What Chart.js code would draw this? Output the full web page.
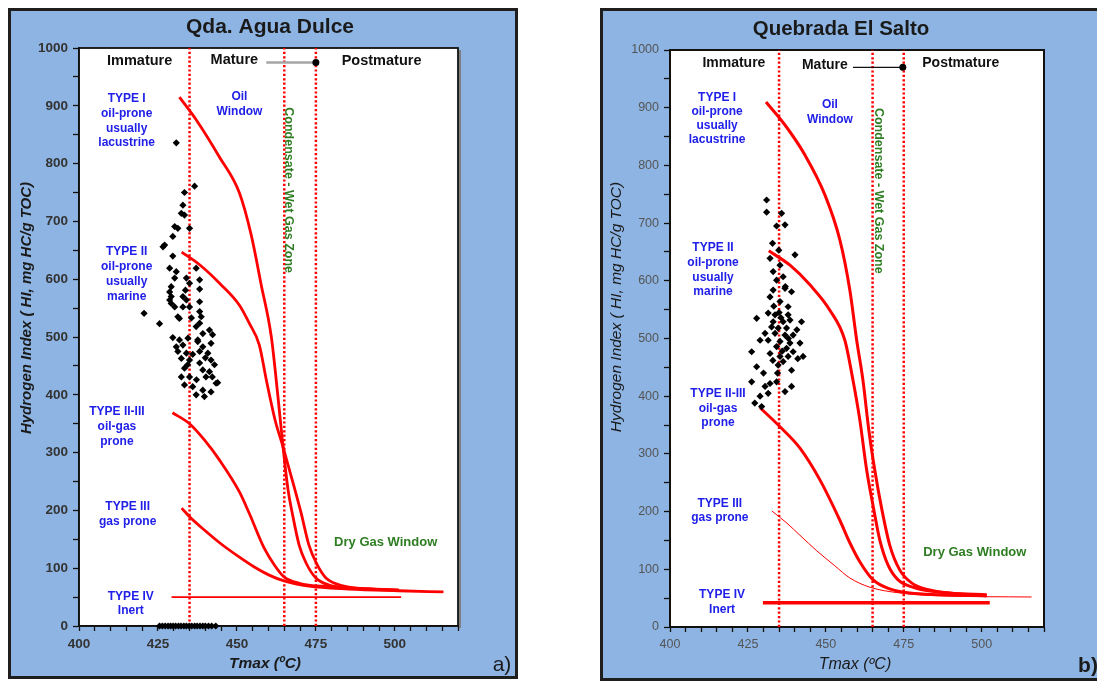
<!DOCTYPE html>
<html><head><meta charset="utf-8">
<script src="https://cdn.jsdelivr.net/npm/chart.js@4.4.1/dist/chart.umd.min.js"></script>
<style>
html,body{margin:0;padding:0;background:#fff;width:1097px;height:682px;overflow:hidden;}
body{position:relative;}
.panel{position:absolute;box-sizing:border-box;background:#8DB4E2;border:3px solid #1e1e1e;}
#pa{left:8px;top:8px;width:510px;height:671px;}
#pb{left:600px;top:8px;width:520px;height:673px;}
canvas{position:absolute;}
#ca{left:11px;top:11px;width:504px;height:665px;}
#cb{left:603px;top:11px;width:494px;height:667px;}
</style></head><body>
<div class="panel" id="pa"></div><div class="panel" id="pb"></div>
<canvas id="ca" width="504" height="665"></canvas>
<canvas id="cb" width="494" height="667"></canvas>
<script>
// ---------- shared axis data ----------
const xTickLabels = [400, 425, 450, 475, 500];
const yTickLabels = [0, 100, 200, 300, 400, 500, 600, 700, 800, 900, 1000];
const boundaryTmax = [435, 465, 475];

// ---------- panel a : Qda. Agua Dulce ----------
const aTypeI_Tmax = [431.8, 437.2, 444.5, 450.8, 454.5, 457.7, 460.9, 463.1, 464.6, 466.2, 467.5, 469.7, 471.9, 475.0, 479.1, 485.4, 501.2];
const aTypeI_HI   = [915, 875, 811, 749, 677, 590, 500, 391, 310, 235, 196, 140, 109, 83, 71, 66, 62];
const aTypeII_Tmax = [432.5, 438.2, 444.5, 450.8, 453.9, 457.1, 459.3, 462.1, 464.6, 467.5, 470.3, 472.8, 475.4, 478.2, 483.9, 491.7, 501.2];
const aTypeII_HI   = [647, 625, 593, 555, 524, 486, 426, 356, 310, 253, 196, 140, 106, 83, 69, 64, 62];
const aTypeIIIII_Tmax = [429.6, 435.0, 439.7, 444.5, 450.8, 453.9, 458.6, 461.8, 464.9, 469.7, 479.1, 501.2];
const aTypeIIIII_HI   = [369, 350, 322, 287, 232, 195, 135, 106, 85, 74, 68, 62];
const aTypeIII_Tmax = [432.5, 435.0, 439.7, 444.5, 450.8, 455.5, 460.2, 464.9, 472.8, 485.4, 501.2, 515.4];
const aTypeIII_HI   = [204, 189, 166, 144, 119, 102, 88, 78, 69, 64, 61, 59];
const aTypeIV_Tmax = [429.3, 502.0];
const aTypeIV_HI   = [50, 50];
const aMature_Tmax = [459.3, 475.0];
const aMature_HI   = [975, 975];
const aSample_Tmax = [430.8, 436.6, 433.4, 432.9, 432.4, 433.4, 430.3, 431.3, 435.0, 429.7, 427.1, 426.6, 429.7, 428.7, 430.8, 437.1, 438.2, 430.3, 434.0, 435.0,
  429.2, 428.7, 438.2, 432.9, 429.2, 428.7, 434.0, 438.2, 429.2, 432.9, 435.0, 438.2, 438.7, 438.2, 431.3, 425.5, 420.6, 437.1, 441.3, 442.3,
  439.2, 429.7, 437.6, 441.8, 430.8, 432.9, 439.2, 431.3, 434.0, 438.2, 440.8, 432.4, 435.0, 441.8, 438.2, 433.4, 439.2, 441.3, 432.4, 435.0,
  440.2, 443.9, 436.0, 439.2, 441.8, 437.1, 439.7, 437.6, 440.0, 434.4, 442.9, 437.2, 433.4, 442.2, 431.8, 435.6, 430.3, 433.7, 431.8, 443.4,
  436.0, 434.5,
  425.5, 426.4, 427.3, 428.2, 429.0, 429.8, 430.6, 431.5, 432.3, 433.2, 434.0, 434.9, 435.7, 436.6, 437.4, 438.3, 439.2, 440.0, 441.0, 442.0, 443.3];
const aSample_HI = [836, 761, 750, 728, 714, 711, 691, 688, 688, 674, 659, 656, 640, 619, 613, 619, 599, 602, 602, 593,
  587, 578, 583, 570, 570, 564, 564, 561, 558, 552, 552, 544, 535, 524, 535, 523, 541, 518, 512, 504,
  506, 499, 492, 489, 483, 486, 483, 475, 472, 475, 472, 463, 460, 460, 455, 446, 443, 440, 431, 431,
  431, 421, 414, 408, 405, 400, 397, 495, 464, 452, 452, 426, 417, 431, 495, 533, 552, 581, 532, 420,
  470, 498,
  0, 0, 0, 0, 0, 0, 0, 0, 0, 0, 0, 0, 0, 0, 0, 0, 0, 0, 0, 0, 0];

// ---------- panel b : Quebrada El Salto ----------
const bTypeI_Tmax = [430.8, 436.9, 443.3, 449.7, 454.5, 457.7, 459.9, 461.9, 463.8, 465.7, 468.0, 470.5, 473.7, 477.6, 483.3, 493.0, 501.6];
const bTypeI_HI   = [910, 870, 818, 749, 671, 584, 497, 428, 341, 272, 203, 142, 99, 76, 64, 57, 54];
const bTypeII_Tmax = [431.7, 438.5, 444.9, 451.3, 456.1, 458.7, 460.9, 463.1, 465.4, 467.3, 469.9, 473.1, 478.5, 489.7, 501.6];
const bTypeII_HI   = [652, 627, 593, 549, 497, 428, 359, 272, 203, 151, 108, 82, 68, 59, 56];
const bTypeIIIII_Tmax = [428.9, 435.3, 441.7, 448.1, 454.5, 457.7, 460.9, 465.1, 470.5, 476.9, 501.6];
const bTypeIIIII_HI   = [380, 347, 310, 255, 185, 146, 113, 82, 66, 59, 54];
const bTypeIII_Tmax = [432.7, 437.5, 441.7, 447.1, 452.9, 457.7, 464.1, 473.7, 486.5, 516.0];
const bTypeIII_HI   = [201, 180, 159, 132, 106, 85, 69, 59, 54, 52];
const bTypeIV_Tmax = [429.8, 502.6];
const bTypeIV_HI   = [42, 42];
const bMature_Tmax = [458.7, 474.7];
const bMature_HI   = [970, 970];
const bSample_Tmax = [431.0, 431.0, 435.8, 434.2, 436.9, 432.9, 432.1, 440.1, 435.3, 433.1, 436.3, 434.2, 433.1, 436.9, 439.0, 432.1, 435.3, 437.9, 427.8, 431.5,
  433.7, 437.9, 433.1, 436.3, 438.5, 442.2, 432.6, 434.7, 437.4, 430.5, 433.7, 436.9, 439.5, 431.5, 435.3, 438.5, 441.7, 434.2, 437.4, 426.2,
  432.1, 439.5, 442.7, 435.3, 437.9, 436.3, 434.7, 427.8, 439.0, 426.2, 434.2, 432.1, 430.5, 439.0, 436.9, 428.9, 431.5, 427.2, 429.4,
  435.6, 433.3, 440.7, 428.9, 434.9, 436.0, 433.0, 438.0, 435.0, 437.0, 441.0, 430.0, 434.5];
const bSample_HI = [740, 719, 717, 695, 697, 665, 639, 645, 627, 616, 607, 601, 584, 587, 581, 572, 564, 555, 535, 544,
  541, 541, 529, 529, 532, 529, 520, 518, 518, 509, 509, 506, 506, 497, 495, 492, 492, 486, 483, 477,
  474, 477, 469, 469, 469, 460, 454, 451, 445, 425, 425, 422, 417, 417, 408, 400, 405, 388, 382,
  536, 556, 515, 497, 653, 478, 462, 500, 545, 590, 465, 440, 440];

// ---------- helpers ----------
const FONT = '"Liberation Sans", Arial, sans-serif';
const RED = '#FF0000';
const zip = (xs, ys) => xs.map((x, i) => ({x: x, y: ys[i]}));

function curve(xs, ys, width) {
  return {data: zip(xs, ys), showLine: true, borderColor: RED, borderWidth: width, pointRadius: 0,
    tension: 0.4, cubicInterpolationMode: 'monotone', fill: false, order: 1};
}
function boundary(t) {
  return {data: [{x: t, y: 0}, {x: t, y: 1000}], showLine: true, borderColor: RED, borderWidth: 2.5,
    borderDash: [2.2, 2.2], pointRadius: 0, tension: 0, order: 2};
}
function mature(xs, ys, color, width) {
  return {data: zip(xs, ys), showLine: true, borderColor: color, borderWidth: width, tension: 0,
    pointRadius: [0, 3.5], pointBackgroundColor: '#000', pointBorderWidth: 0, order: 1};
}
function samples(xs, ys) {
  return {data: zip(xs, ys), pointStyle: 'rectRot', pointRadius: 3.6, backgroundColor: '#000',
    borderColor: '#000', borderWidth: 0, clip: false, order: 0};
}

const panelDecor = {
  id: 'panelDecor',
  beforeDraw(chart) {
    const {ctx, chartArea: a} = chart;
    ctx.save(); ctx.fillStyle = '#fff';
    ctx.fillRect(a.left, a.top, a.right - a.left, a.bottom - a.top); ctx.restore();
  },
  beforeDatasetsDraw(chart, args, o) {
    const {ctx, chartArea: a} = chart;
    ctx.save();
    if (o.shadow) {
      ctx.strokeStyle = '#7f7f7f'; ctx.lineWidth = 2;
      ctx.beginPath(); ctx.moveTo(a.right + 2, a.top + 2); ctx.lineTo(a.right + 2, a.bottom + 2); ctx.stroke();
    }
    ctx.strokeStyle = '#111'; ctx.lineWidth = o.frameWidth;
    ctx.strokeRect(a.left, a.top, a.right - a.left, a.bottom - a.top);
    ctx.restore();
  },
  afterDraw(chart, args, o) {
    const {ctx, scales: {x, y}} = chart;
    ctx.save();
    ctx.textAlign = 'center'; ctx.textBaseline = 'middle';
    for (const lab of o.labels) {
      const px = x.getPixelForValue(lab.at[0]), py = y.getPixelForValue(lab.at[1]);
      ctx.font = lab.font; ctx.fillStyle = lab.color;
      if (lab.rot) {
        ctx.save(); ctx.translate(px, py); ctx.rotate(lab.rot); ctx.fillText(lab.lines[0], 0, 0); ctx.restore();
      } else {
        lab.lines.forEach((t, i) => ctx.fillText(t, px, py + i * (lab.lh || 0)));
      }
    }
    for (const t of o.texts) {
      ctx.font = t.font; ctx.fillStyle = t.color;
      if (t.rot) {
        ctx.save(); ctx.translate(t.x, t.y); ctx.rotate(t.rot); ctx.fillText(t.text, 0, 0); ctx.restore();
      } else ctx.fillText(t.text, t.x, t.y);
    }
    ctx.restore();
  }
};

function makePanel(id, datasets, cfg) {
  const tickFont = {family: FONT, size: cfg.tickSize, weight: cfg.tickWeight};
  return new Chart(document.getElementById(id), {
    type: 'scatter',
    data: {datasets: datasets},
    options: {
      responsive: false, animation: false, events: [],
      layout: {padding: cfg.pad},
      plugins: {legend: {display: false}, tooltip: {enabled: false}, title: {display: false},
        panelDecor: cfg.decor},
      scales: {
        x: {type: 'linear', min: 400, max: 520,
          afterFit: s => { s.height = cfg.xHeight; },
          border: {display: true, color: '#111', width: 1.5},
          grid: {drawOnChartArea: false, drawTicks: true, tickLength: 5, color: '#111', tickWidth: 1.3},
          ticks: {stepSize: 5, autoSkip: false, maxRotation: 0, padding: 5, color: cfg.tickColor, font: tickFont,
            callback: v => xTickLabels.includes(v) ? String(v) : ''}},
        y: {type: 'linear', min: 0, max: 1000,
          afterFit: s => { s.width = cfg.yWidth; },
          border: {display: true, color: '#111', width: 1.5},
          grid: {drawOnChartArea: false, drawTicks: true, tickLength: 6, color: '#111', tickWidth: 1.3},
          ticks: {stepSize: 50, autoSkip: false, padding: 5, color: cfg.tickColor, font: tickFont,
            callback: v => yTickLabels.includes(v) ? String(v) : ''}}
      }
    },
    plugins: [panelDecor]
  });
}

const BLUE = '#2020E8', GREEN = '#2E7D22', DARK = '#111';
const fBlue = 'bold 12px ' + FONT, fStage = 'bold 14.5px ' + FONT;
const fGreen = 'bold 13px ' + FONT, fGreenV = 'bold 12.5px ' + FONT;

// ---------- panel a ----------
makePanel('ca', [
  samples(aSample_Tmax, aSample_HI),
  curve(aTypeI_Tmax, aTypeI_HI, 2.8),
  curve(aTypeII_Tmax, aTypeII_HI, 2.8),
  curve(aTypeIIIII_Tmax, aTypeIIIII_HI, 2.8),
  curve(aTypeIII_Tmax, aTypeIII_HI, 2.8),
  curve(aTypeIV_Tmax, aTypeIV_HI, 1.6),
  mature(aMature_Tmax, aMature_HI, '#A6A6A6', 2.5),
  ...boundaryTmax.map(boundary)
], {
  pad: {top: 37, right: 57, left: 0, bottom: 0}, yWidth: 68, xHeight: 50,
  tickWeight: 'bold', tickColor: '#333', tickSize: 13.5,
  decor: {
    frameWidth: 1.8, shadow: true,
    labels: [
      {lines: ['Immature'], at: [419.2, 977], font: fStage, color: DARK},
      {lines: ['Mature'], at: [449.2, 979], font: fStage, color: DARK},
      {lines: ['Postmature'], at: [495.8, 977], font: fStage, color: DARK},
      {lines: ['TYPE I', 'oil-prone', 'usually', 'lacustrine'], at: [415.1, 912], lh: 14.7, font: fBlue, color: BLUE},
      {lines: ['Oil', 'Window'], at: [450.8, 915], lh: 15, font: fBlue, color: BLUE},
      {lines: ['TYPE II', 'oil-prone', 'usually', 'marine'], at: [415.1, 647], lh: 15, font: fBlue, color: BLUE},
      {lines: ['TYPE II-III', 'oil-gas', 'prone'], at: [412.0, 370], lh: 15, font: fBlue, color: BLUE},
      {lines: ['TYPE III', 'gas prone'], at: [415.4, 206], lh: 15, font: fBlue, color: BLUE},
      {lines: ['TYPE IV', 'Inert'], at: [416.4, 50], lh: 14, font: fBlue, color: BLUE},
      {lines: ['Dry Gas Window'], at: [497.1, 144], font: fGreen, color: GREEN},
      {lines: ['Condensate - Wet Gas Zone'], at: [466.3, 754], rot: Math.PI / 2, font: fGreenV, color: GREEN}
    ],
    texts: [
      {text: 'Qda. Agua Dulce', x: 259, y: 16, font: 'bold 21px ' + FONT, color: '#1a1a1a'},
      {text: 'Hydrogen Index ( HI, mg HC/g TOC)', x: 16, y: 297, rot: -Math.PI / 2, font: 'italic bold 15px ' + FONT, color: '#1a1a1a'},
      {text: 'Tmax (ºC)', x: 254, y: 653, font: 'italic bold 15.5px ' + FONT, color: '#1a1a1a'},
      {text: 'a)', x: 491, y: 654, font: '21px ' + FONT, color: '#1a1a1a'}
    ]
  }
});

// ---------- panel b ----------
makePanel('cb', [
  samples(bSample_Tmax, bSample_HI),
  curve(bTypeI_Tmax, bTypeI_HI, 3),
  curve(bTypeII_Tmax, bTypeII_HI, 3),
  curve(bTypeIIIII_Tmax, bTypeIIIII_HI, 3),
  curve(bTypeIII_Tmax, bTypeIII_HI, 1),
  curve(bTypeIV_Tmax, bTypeIV_HI, 3.5),
  mature(bMature_Tmax, bMature_HI, '#111', 1.2),
  ...boundaryTmax.map(boundary)
], {
  pad: {top: 39, right: 53, left: 0, bottom: 0}, yWidth: 67, xHeight: 51,
  tickWeight: 'normal', tickColor: '#555', tickSize: 12.5,
  decor: {
    frameWidth: 2, shadow: false,
    labels: [
      {lines: ['Immature'], at: [420.5, 977], font: 'bold 14px ' + FONT, color: DARK},
      {lines: ['Mature'], at: [449.7, 974], font: 'bold 14px ' + FONT, color: DARK},
      {lines: ['Postmature'], at: [493.3, 977], font: 'bold 14px ' + FONT, color: DARK},
      {lines: ['TYPE I', 'oil-prone', 'usually', 'lacustrine'], at: [415.1, 918], lh: 14, font: fBlue, color: BLUE},
      {lines: ['Oil', 'Window'], at: [451.3, 906], lh: 15, font: fBlue, color: BLUE},
      {lines: ['TYPE II', 'oil-prone', 'usually', 'marine'], at: [413.8, 657], lh: 14.7, font: fBlue, color: BLUE},
      {lines: ['TYPE II-III', 'oil-gas', 'prone'], at: [415.4, 404], lh: 14.5, font: fBlue, color: BLUE},
      {lines: ['TYPE III', 'gas prone'], at: [416.0, 213], lh: 14, font: fBlue, color: BLUE},
      {lines: ['TYPE IV', 'Inert'], at: [416.7, 56], lh: 15, font: fBlue, color: BLUE},
      {lines: ['Dry Gas Window'], at: [497.8, 130], font: fGreen, color: GREEN},
      {lines: ['Condensate - Wet Gas Zone'], at: [467.0, 756], rot: Math.PI / 2, font: fGreenV, color: GREEN}
    ],
    texts: [
      {text: 'Quebrada El Salto', x: 238, y: 18, font: 'bold 20.5px ' + FONT, color: '#1a1a1a'},
      {text: 'Hydrogen Index ( HI, mg HC/g TOC)', x: 14, y: 296, rot: -Math.PI / 2, font: 'italic 15.5px ' + FONT, color: '#1a1a1a'},
      {text: 'Tmax (ºC)', x: 252, y: 654, font: 'italic 16px ' + FONT, color: '#1a1a1a'},
      {text: 'b)', x: 485, y: 655, font: 'bold 21px ' + FONT, color: '#1a1a1a'}
    ]
  }
});
</script>
</body></html>
